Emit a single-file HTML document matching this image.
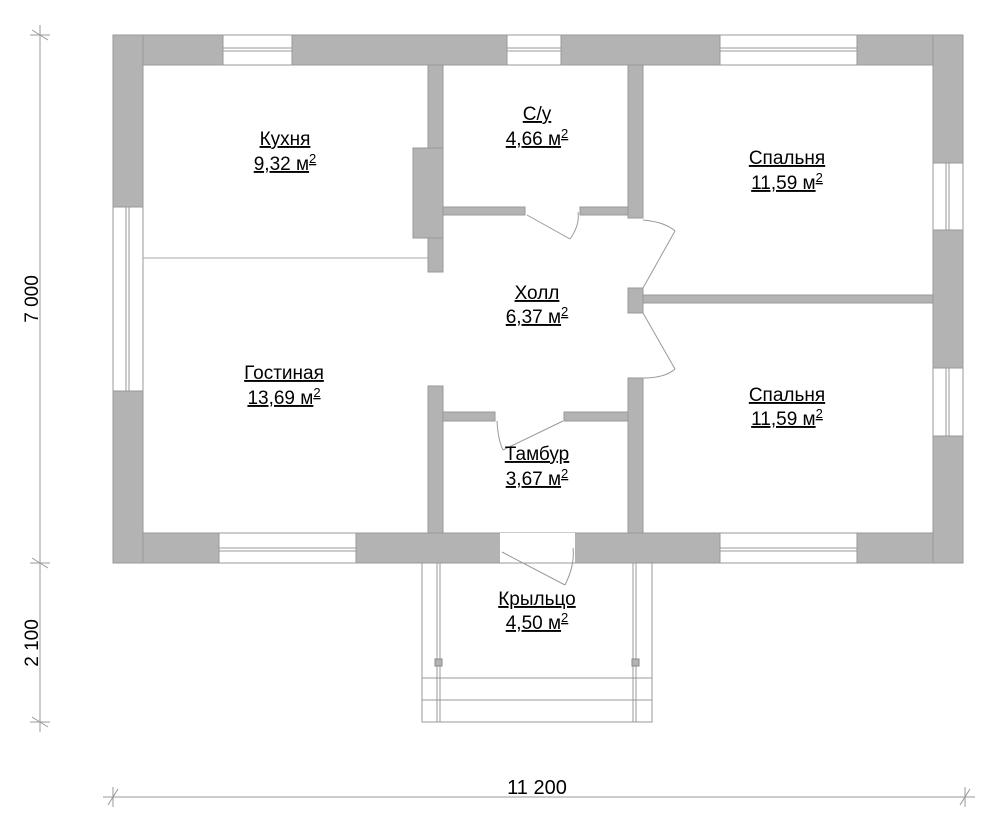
<!DOCTYPE html>
<html><head><meta charset="utf-8"><style>
html,body{margin:0;padding:0;background:#fff;}
svg{display:block;}
text{font-family:"Liberation Sans",sans-serif;fill:#000;}
</style></head><body>
<svg width="1000" height="834" viewBox="0 0 1000 834" xmlns="http://www.w3.org/2000/svg">
<g fill="#b3b3b3" stroke="#999" stroke-width="1">
<rect x="113" y="35" width="850" height="30"/>
<rect x="113" y="533" width="850" height="30"/>
<rect x="113" y="35" width="30" height="528"/>
<rect x="933" y="35" width="30" height="528"/>
<rect x="428" y="65" width="15" height="207"/>
<rect x="413" y="148" width="30" height="90"/>
<rect x="443" y="207" width="82" height="8"/>
<rect x="580" y="207" width="48" height="8"/>
<rect x="628" y="65" width="15" height="153"/>
<rect x="628" y="288" width="15" height="25"/>
<rect x="643" y="295" width="290" height="8"/>
<rect x="628" y="378" width="15" height="155"/>
<rect x="428" y="386" width="15" height="147"/>
<rect x="443" y="412" width="52" height="9"/>
<rect x="564" y="412" width="64" height="9"/>
</g>
<g fill="#fff" stroke="#999" stroke-width="1">
<rect x="223" y="35" width="69" height="30"/>
<rect x="507" y="35" width="54" height="30"/>
<rect x="720" y="35" width="137" height="30"/>
<rect x="219" y="533" width="137" height="30"/>
<rect x="720" y="533" width="137" height="30"/>
<rect x="500" y="533" width="75" height="30" stroke="none"/>
<rect x="113" y="207" width="30" height="184"/>
<rect x="933" y="163" width="30" height="67"/>
<rect x="933" y="368" width="30" height="68"/>
</g>
<g stroke="#999" stroke-width="1" fill="none">
<line x1="223" y1="48" x2="292" y2="48"/><line x1="223" y1="51" x2="292" y2="51"/>
<line x1="507" y1="48" x2="561" y2="48"/><line x1="507" y1="51" x2="561" y2="51"/>
<line x1="720" y1="48" x2="857" y2="48"/><line x1="720" y1="51" x2="857" y2="51"/>
<line x1="219" y1="548" x2="356" y2="548"/><line x1="219" y1="551" x2="356" y2="551"/>
<line x1="720" y1="548" x2="857" y2="548"/><line x1="720" y1="551" x2="857" y2="551"/>
<line x1="126" y1="207" x2="126" y2="391"/><line x1="129" y1="207" x2="129" y2="391"/>
<line x1="946" y1="163" x2="946" y2="230"/><line x1="949" y1="163" x2="949" y2="230"/>
<line x1="946" y1="368" x2="946" y2="436"/><line x1="949" y1="368" x2="949" y2="436"/>
<line x1="500" y1="563" x2="575" y2="563"/>
<line x1="143" y1="258" x2="428" y2="258" stroke="#aaa"/>
<line x1="527" y1="215" x2="570" y2="239"/>
<path d="M570 239 Q580 225 578 212"/>
<line x1="643" y1="288" x2="675" y2="231"/>
<path d="M643 220 Q665 222 675 231"/>
<line x1="643" y1="313" x2="675" y2="369"/>
<path d="M675 369 Q665 378 643 378"/>
<line x1="563" y1="421" x2="503" y2="450"/>
<path d="M497 421 Q498 440 503 450"/>
<line x1="502" y1="552" x2="565" y2="585"/>
<path d="M565 585 Q575 565 573 548"/>
<path d="M422 563 V722 H652 V563"/>
<line x1="437" y1="563" x2="437" y2="722"/><line x1="440" y1="563" x2="440" y2="722"/>
<line x1="633" y1="563" x2="633" y2="722"/><line x1="636" y1="563" x2="636" y2="722"/>
<line x1="422" y1="678" x2="652" y2="678"/>
<line x1="422" y1="700" x2="652" y2="700"/>
</g>
<rect x="435" y="659" width="7" height="7" fill="#b3b3b3" stroke="#888"/>
<rect x="632" y="659" width="7" height="7" fill="#b3b3b3" stroke="#888"/>
<g stroke="#999" stroke-width="1">
<line x1="40" y1="25" x2="40" y2="732"/>
<line x1="32" y1="30" x2="48" y2="40"/><line x1="30" y1="35" x2="50" y2="35"/>
<line x1="32" y1="558" x2="48" y2="568"/><line x1="30" y1="563" x2="50" y2="563"/>
<line x1="32" y1="717" x2="48" y2="727"/><line x1="30" y1="722" x2="50" y2="722"/>
<line x1="103" y1="797" x2="975" y2="797"/>
<line x1="108" y1="805" x2="118" y2="789"/><line x1="113" y1="787" x2="113" y2="807"/>
<line x1="960" y1="805" x2="970" y2="789"/><line x1="965" y1="787" x2="965" y2="807"/>
</g>
<text x="537" y="794" font-size="20" text-anchor="middle">11 200</text>
<text transform="translate(38,299) rotate(-90)" font-size="19" text-anchor="middle">7 000</text>
<text transform="translate(38,643) rotate(-90)" font-size="19" text-anchor="middle">2 100</text>
<g font-size="19" text-anchor="middle" text-decoration="underline">
<text x="285" y="145">Кухня</text>
<text x="285" y="170">9,32 м<tspan font-size="13" dy="-7">2</tspan></text>
<text x="537" y="120">С/у</text>
<text x="537" y="145">4,66 м<tspan font-size="13" dy="-7">2</tspan></text>
<text x="787" y="164">Спальня</text>
<text x="787" y="189">11,59 м<tspan font-size="13" dy="-7">2</tspan></text>
<text x="537" y="299">Холл</text>
<text x="537" y="323">6,37 м<tspan font-size="13" dy="-7">2</tspan></text>
<text x="284" y="379">Гостиная</text>
<text x="284" y="404">13,69 м<tspan font-size="13" dy="-7">2</tspan></text>
<text x="787" y="401">Спальня</text>
<text x="787" y="425">11,59 м<tspan font-size="13" dy="-7">2</tspan></text>
<text x="537" y="460">Тамбур</text>
<text x="537" y="485">3,67 м<tspan font-size="13" dy="-7">2</tspan></text>
<text x="537" y="605">Крыльцо</text>
<text x="537" y="629">4,50 м<tspan font-size="13" dy="-7">2</tspan></text>
</g>
</svg>
</body></html>
